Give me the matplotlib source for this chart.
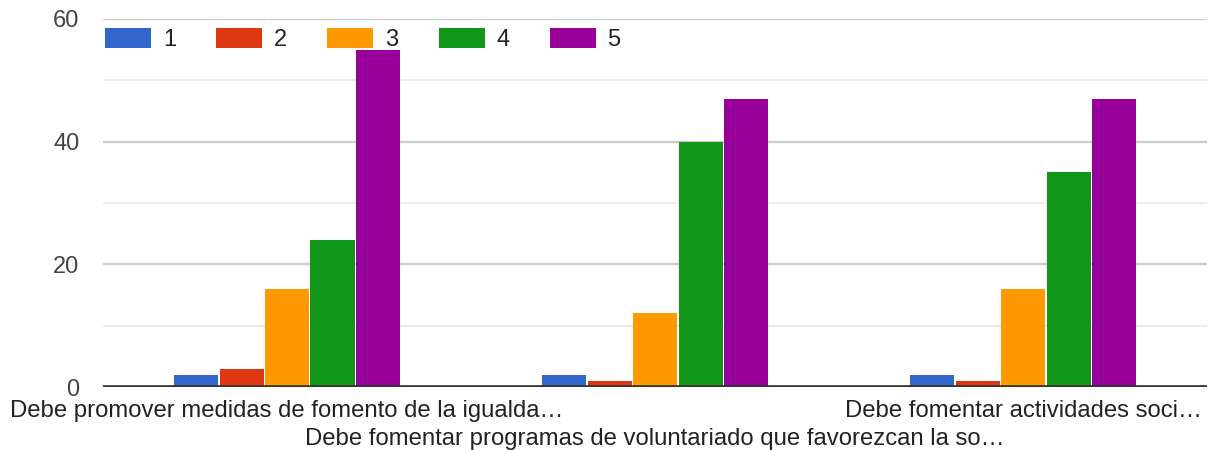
import numpy as np
import matplotlib
matplotlib.use("Agg")
from matplotlib import pyplot as plt
from matplotlib.ticker import MultipleLocator

categories = [
    "Debe promover medidas de fomento de la igualda…",
    "Debe fomentar programas de voluntariado que favorezcan la so…",
    "Debe fomentar actividades soci…",
]
series_names = ["1", "2", "3", "4", "5"]
values_1 = [2, 2, 2]
values_2 = [3, 1, 1]
values_3 = [16, 12, 16]
values_4 = [24, 40, 35]
values_5 = [55, 47, 47]
series_values = [values_1, values_2, values_3, values_4, values_5]
colors = ["#3366cc", "#dc3912", "#ff9900", "#109618", "#990099"]

plt.rcParams["font.family"] = ["Liberation Sans", "DejaVu Sans"]

fig = plt.figure(figsize=(12.09, 4.5), dpi=100)
ax = fig.add_axes([0.0852, 0.14, 0.9133, 0.818])

x = np.arange(len(categories))
step = 0.1235
for i, (name, vals) in enumerate(zip(series_names, series_values)):
    ax.bar(x + (i - 2) * step, vals, width=step * 0.97, color=colors[i],
           label=name, zorder=3)

ax.set_xlim(-0.5, 2.5)
ax.set_ylim(0, 60)
ax.yaxis.set_major_locator(MultipleLocator(20))
ax.yaxis.set_minor_locator(MultipleLocator(10))
ax.grid(True, which="major", axis="y", color="#cccccc", linewidth=1.6, zorder=0)
ax.grid(True, which="minor", axis="y", color="#ebebeb", linewidth=1.3, zorder=0)
ax.axhline(0, color="#333333", linewidth=2.6, zorder=4)

for s in ax.spines.values():
    s.set_visible(False)

ax.tick_params(axis="y", which="both", length=0, pad=17, labelsize=17,
               labelcolor="#444444")
ax.set_xticks(x)
ax.set_xticklabels(categories)
ax.tick_params(axis="x", length=0, pad=9.5, labelsize=17.2, labelcolor="#222222")
ax.xaxis.get_major_ticks()[1].set_pad(29.5)

ax.legend(ncol=5, loc="upper left", bbox_to_anchor=(0.002, 0.975),
          frameon=False, fontsize=17, handlelength=1.95, handleheight=0.95,
          handletextpad=0.5, columnspacing=1.7, borderpad=0, borderaxespad=0,
          labelcolor="#222222")

fig.savefig("out.png", dpi=100)
